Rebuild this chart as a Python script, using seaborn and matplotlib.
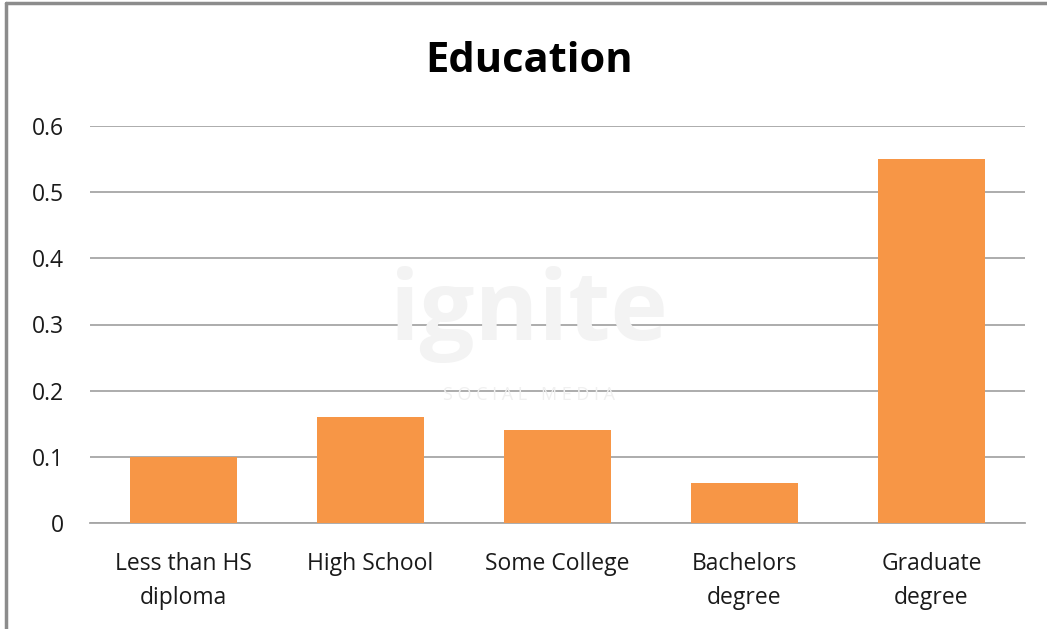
import matplotlib
matplotlib.use("Agg")
import matplotlib.pyplot as plt
import seaborn as sns
import pandas as pd
from matplotlib.lines import Line2D

categories = ["Less than HS\ndiploma", "High School", "Some College", "Bachelors\ndegree", "Graduate\ndegree"]
values = [0.10, 0.16, 0.14, 0.06, 0.55]
yticks = [0, 0.1, 0.2, 0.3, 0.4, 0.5, 0.6]
ytick_labels = ["0", "0.1", "0.2", "0.3", "0.4", "0.5", "0.6"]

sns.set_theme(style="white")
plt.rcParams['font.family'] = ['Open Sans', 'DejaVu Sans']

df = pd.DataFrame({"cat": categories, "val": values})

W, H = 1047, 629
fig = plt.figure(figsize=(W / 100, H / 100), dpi=100)
ax = fig.add_axes([90 / W, 1 - 523 / H, (1025 - 90) / W, (523 - 126) / H])

# watermark
fig.text(0.505, 0.50, "ignite", ha="center", va="center", fontsize=70, fontweight="bold",
         color="#f3f3f3", zorder=0)
fig.text(0.505, 0.372, "S O C I A L   M E D I A", ha="center", va="center", fontsize=13,
         color="#f0f0f0", zorder=0)
ax.set_facecolor("none")

sns.barplot(data=df, x="cat", y="val", color="#F79646", saturation=1, width=0.57,
            linewidth=0, ax=ax, zorder=3)

ax.set_ylim(0, 0.6)
ax.set_yticks(yticks)
ax.set_yticklabels(ytick_labels)
ax.yaxis.grid(True, color="#a6a6a6", linewidth=1.3, zorder=0)
ax.set_axisbelow(True)
for s in ["top", "right", "left"]:
    ax.spines[s].set_visible(False)
ax.spines["bottom"].set_color("#a6a6a6")
ax.spines["bottom"].set_linewidth(1.3)
ax.set_xlabel("")
ax.set_ylabel("")
ax.tick_params(axis="y", labelsize=16.5, colors="#1a1a1a", pad=19, length=0)
ax.tick_params(axis="x", labelsize=16.5, colors="#1a1a1a", pad=21, length=0)
for lbl in ax.get_xticklabels():
    lbl.set_linespacing(1.55)

fig.text(0.505, 1 - 62 / H, "Education", ha="center", va="center", fontsize=30,
         fontweight="bold", color="#000000")

# outer frame (left and top edges)
fig.add_artist(Line2D([6 / W, 6 / W], [0, 1 - 3 / H], transform=fig.transFigure,
                      color="#8c8c8c", linewidth=2.5))
fig.add_artist(Line2D([6 / W, 1], [1 - 3 / H, 1 - 3 / H], transform=fig.transFigure,
                      color="#8c8c8c", linewidth=2.5))

fig.savefig("out.png", dpi=100)
